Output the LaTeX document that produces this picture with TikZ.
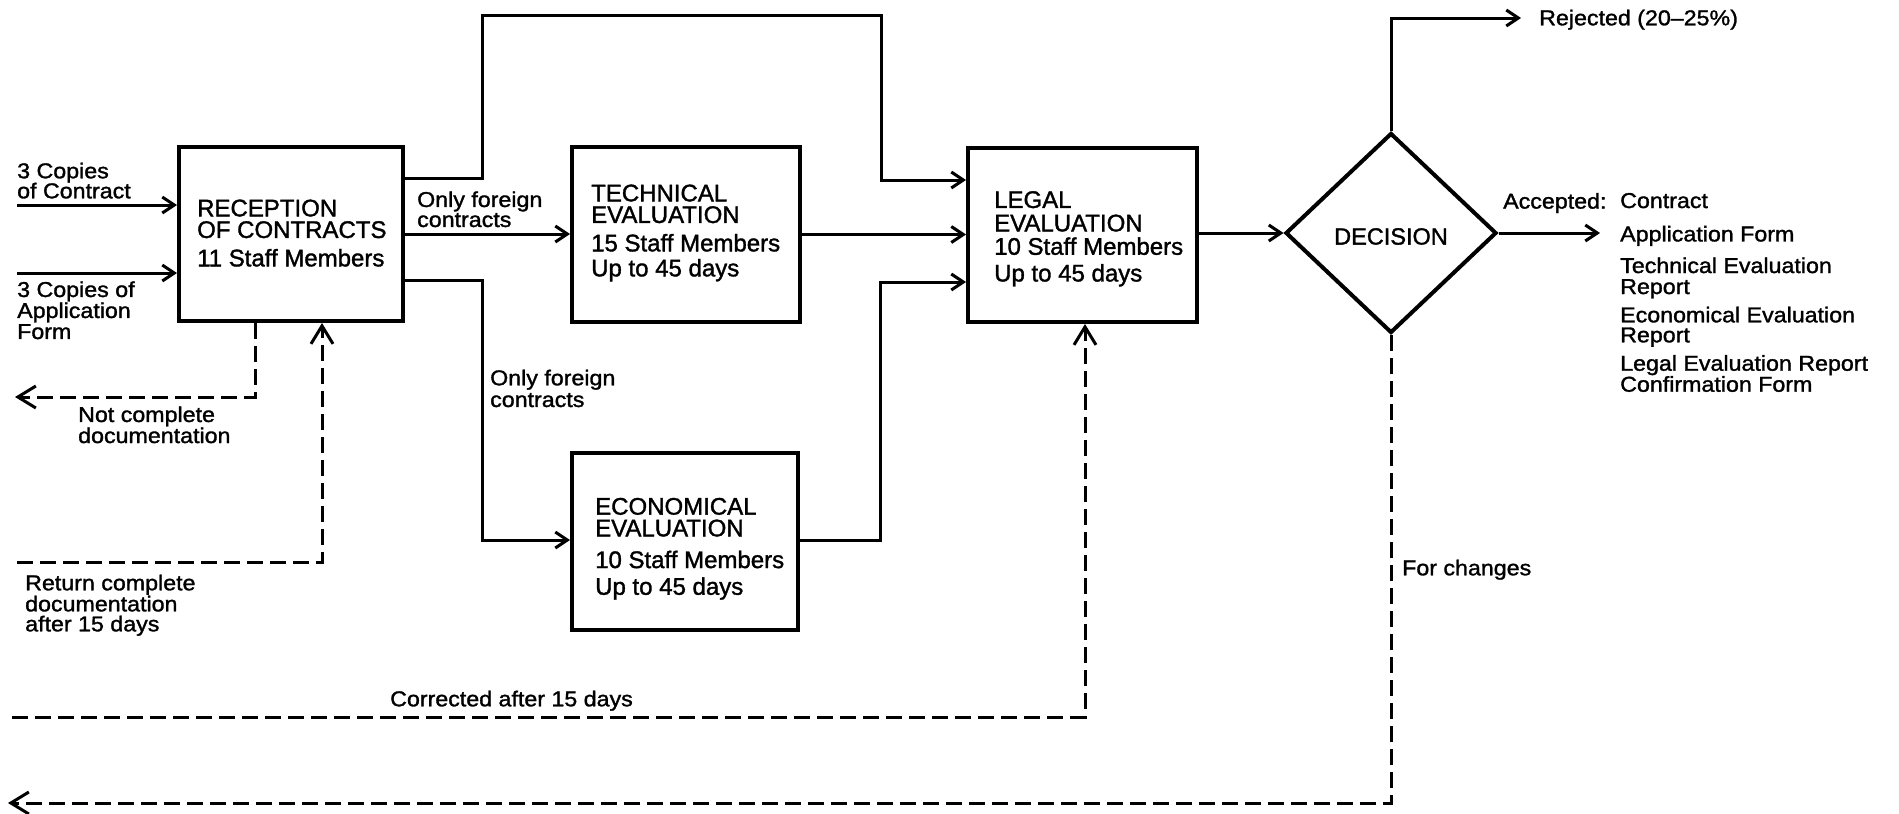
\documentclass[tikz,border=0pt]{standalone}
\usepackage{fontspec}
\setmainfont{Liberation Sans}[FakeBold=1.4]
\newfontfamily\lblfont{Liberation Sans}[FakeStretch=1.08,FakeBold=1.4]
\usetikzlibrary{arrows.meta,shapes.geometric}
\begin{document}
\begin{tikzpicture}[x=1pt,y=-1pt,
  boxnode/.style={draw,line width=4pt,inner sep=0pt},
  boxtext/.style={anchor=north west,inner sep=0pt,align=left},
  lbl/.style={anchor=north west,inner sep=0pt,align=left,font=\lblfont\fontsize{21.5}{20}\selectfont},
  flow/.style={line width=3pt,-{Straight Barb[length=12pt,width=16pt]}},
  dflow/.style={line width=3pt,dash pattern=on 16pt off 7pt,-{Straight Barb[length=18pt,width=22pt]}},
]
\useasboundingbox (0,0) rectangle (1899,814);
\fill[white] (0,0) rectangle (1899,814);

% boxes
\node[boxnode,minimum width=224pt,minimum height=174pt] (recep) at (291,234) {};
\node[boxnode,minimum width=228pt,minimum height=175pt] (tech) at (686,234.5) {};
\node[boxnode,minimum width=226pt,minimum height=177pt] (econ) at (685,541.5) {};
\node[boxnode,minimum width=229pt,minimum height=174pt] (legal) at (1082.5,235) {};
\node[draw,diamond,line width=4pt,inner sep=0pt,minimum width=211pt,minimum height=200pt] (dec) at (1391,233) {};
\node[inner sep=0pt,font=\fontsize{23.5}{24}\selectfont,yshift=-3.5pt] (dect) at (dec) {DECISION};

% box texts
\node[boxtext,font=\fontsize{24}{21.6}\selectfont] (recept) at (197,199.4)
  {RECEPTION\\OF CONTRACTS\\[6.8pt]11 Staff Members};
\node[boxtext,font=\fontsize{24}{21.6}\selectfont] (techt) at (591,184.4)
  {TECHNICAL\\EVALUATION\\[6.8pt]15 Staff Members\\[3.4pt]Up to 45 days};
\node[boxtext,font=\fontsize{24}{21.7}\selectfont] (econt) at (595,497.7)
  {ECONOMICAL\\EVALUATION\\[10pt]10 Staff Members\\[5pt]Up to 45 days};
\node[boxtext,font=\fontsize{24}{23.4}\selectfont] (legalt) at (994,191)
  {LEGAL\\EVALUATION\\10 Staff Members\\[3.3pt]Up to 45 days};

% coordinates
\coordinate (in1) at (17,205);
\coordinate (in2) at (17,273);
\coordinate (ta) at (482,15);
\coordinate (tb) at (881,180);
\coordinate (ea) at (482,540);
\coordinate (eb) at (880,282);
\coordinate (rejend) at (1521,18);
\coordinate (accend) at (1600,233);
\coordinate (backend) at (8,803);
\coordinate (corstart) at (12,717);
\coordinate (ncend) at (15,397);
\coordinate (retstart) at (17,562);

% solid connectors
\draw[flow] (in1) -- (in1 -| recep.west);
\draw[flow] (in2) -- (in2 -| recep.west);
\draw[flow] (recep.east |- 0,178) -| (ta) -| (tb) -- (legal.west |- tb);
\draw[flow] (recep.east) -- (recep.east -| tech.west);
\draw[flow] (recep.east |- 0,280) -| (ea) -- (econ.west |- ea);
\draw[flow] (tech.east) -- (tech.east -| legal.west);
\draw[flow] (econ.east |- ea) -| (eb) -- (legal.west |- eb);
\draw[flow] (legal.east |- dec.west) -- (dec.west);
\draw[flow] (dec.north) |- (rejend);
\draw[flow] (dec.east) -- (accend);

% dashed connectors
\draw[dflow] ([xshift=-36pt]recep.south) |- (ncend);
\draw[dflow] (retstart) -| ([xshift=31pt]recep.south);
\draw[dflow] (corstart) -| ([xshift=2.5pt]legal.south);
\draw[dflow] (dec.south) |- (backend);

% labels
\node[lbl] (l1) at (17,162.5) {3 Copies\\[-1pt]of Contract};
\node[lbl,font=\lblfont\fontsize{21.5}{21}\selectfont] (l2) at (17,281.2) {3 Copies of\\Application\\Form};
\node[lbl] (l3) at (417,191.2) {Only foreign\\contracts};
\node[lbl,font=\lblfont\fontsize{21.5}{21.7}\selectfont] (l4) at (490,369.5) {Only foreign\\contracts};
\node[lbl] (l5) at (78,406.2) {Not complete\\documentation};
\node[lbl] (l6) at (25,574.5) {Return complete\\documentation\\after 15 days};
\node[lbl] (l7) at (390,690.5) {Corrected after 15 days};
\node[lbl] (l8) at (1402,559.5) {For changes};
\node[lbl] (l9) at (1539,9.5) {Rejected (20–25\%)};
\node[lbl] (l10) at (1503,192.8) {Accepted:};
\node[lbl,font=\lblfont\fontsize{21.5}{21}\selectfont] (l11) at (1620,192.8) {Contract\\[12.4pt]Application Form\\[10.6pt]Technical Evaluation\\Report\\[7.3pt]Economical Evaluation\\[-1pt]Report\\[7.4pt]Legal Evaluation Report\\Confirmation Form};
\end{tikzpicture}
\end{document}
